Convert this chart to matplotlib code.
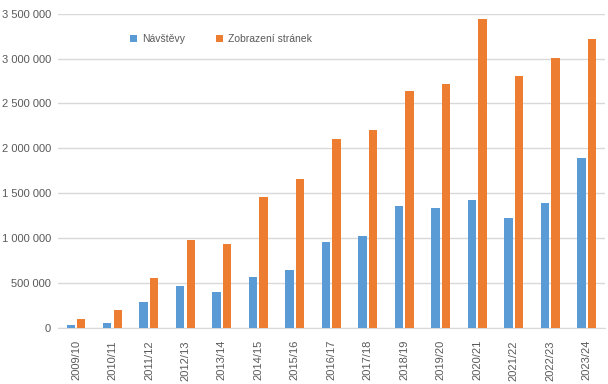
import numpy as np
import matplotlib.pyplot as plt
from matplotlib.ticker import FuncFormatter

seasons = ['2009/10', '2010/11', '2011/12', '2012/13', '2013/14', '2014/15',
           '2015/16', '2016/17', '2017/18', '2018/19', '2019/20', '2020/21',
           '2021/22', '2022/23', '2023/24']
navstevy = [28000, 52000, 285000, 460000, 395000, 567000, 638000, 955000,
            1025000, 1352000, 1330000, 1425000, 1222000, 1393000, 1892000]
zobrazeni = [97000, 195000, 552000, 977000, 932000, 1456000, 1655000, 2104000,
             2208000, 2640000, 2714000, 3447000, 2810000, 3004000, 3216000]

plt.rcParams['font.family'] = ['Liberation Sans', 'DejaVu Sans']
TXT = '#595959'
GRID = '#d9d9d9'

fig = plt.figure(figsize=(6.08, 3.84), dpi=100)
ax = fig.add_axes([0.095, 0.147, 0.9, 0.817])

x = np.arange(len(seasons))
w = 0.23
ax.bar(x - 0.145, navstevy, w, color='#5b9bd5', label='Návštěvy', zorder=3)
ax.bar(x + 0.145, zobrazeni, w, color='#ed7d31', label='Zobrazení stránek', zorder=3)

ax.set_xlim(-0.5, len(seasons) - 0.5)
ax.set_ylim(0, 3500000)
ax.set_yticks(np.arange(0, 3500001, 500000))
ax.yaxis.set_major_formatter(FuncFormatter(lambda v, p: '{:,.0f}'.format(v).replace(',', ' ')))
ax.set_xticks(x)
ax.set_xticklabels(seasons, rotation=90)
ax.grid(axis='y', color=GRID, linewidth=1, zorder=0)
for s in ['top', 'right', 'left']:
    ax.spines[s].set_visible(False)
ax.spines['bottom'].set_color(GRID)
ax.tick_params(axis='both', length=0, colors=TXT, labelsize=8)
ax.tick_params(axis='y', pad=5)
ax.tick_params(axis='x', pad=9)

ax.legend(loc='upper left', bbox_to_anchor=(0.115, 0.965), ncol=2, frameon=False,
          fontsize=7.5, labelcolor=TXT, handlelength=0.7, handleheight=0.7,
          columnspacing=2.9, handletextpad=0.5)

fig.savefig('out.png', dpi=100)
